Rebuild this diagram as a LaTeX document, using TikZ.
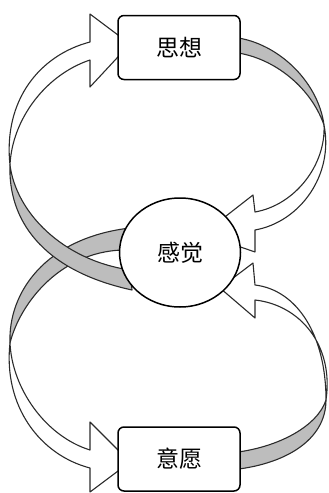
\documentclass[tikz,border=0pt]{standalone}
\usepackage{fontspec}
\newfontfamily\cjk{Noto Sans CJK SC}
\usetikzlibrary{shapes.geometric}
\definecolor{edgecol}{HTML}{2B2B2B}
\definecolor{backcol}{HTML}{BDBDBD}
\tikzset{
  front/.style={fill=white, draw=edgecol, line width=1.1pt, line join=round},
  backside/.style={fill=backcol, draw=edgecol, line width=1.1pt, line join=round},
  boxnode/.style={draw=black, line width=1.5pt, rounded corners=6pt, fill=white,
    minimum width=122pt, minimum height=64pt, font=\cjk\fontsize{23}{23}\selectfont},
  circnode/.style={ellipse, draw=black, line width=1.5pt, fill=white,
    minimum width=121pt, minimum height=109pt, font=\cjk\fontsize{23}{23}\selectfont}
}
\begin{document}
\begin{tikzpicture}[x=1pt,y=-1pt]
\useasboundingbox (0,0) rectangle (329,493);
% twist points
\coordinate (tA) at (10,165);
\coordinate (tB) at (10,343);
\coordinate (tC) at (324,125);
\coordinate (tD) at (326,400);
% ---- arrow B (circle -> bottom box, left) ----
\path[backside] (tB) .. controls (8,293) and (45,238) .. (130,228)
   -- (130,250) .. controls (62,248) and (20,303) .. (tB) -- cycle;
\path[front] (90,450) -- (90,422) -- (130,462) -- (90,492) -- (90,468)
   .. controls (40,455) and (3,406) .. (tB)
   .. controls (12,388) and (45,436) .. (90,450) -- cycle;
% ---- arrow A (circle -> top box, left) ----
\path[backside] (tA) .. controls (16,212) and (62,260) .. (130,270)
   -- (132,290) .. controls (40,270) and (8,218) .. (tA) -- cycle;
\path[front] (90,42) -- (90,14) -- (130,44) -- (90,87) -- (90,60)
   .. controls (45,75) and (12,120) .. (tA)
   .. controls (3,100) and (40,55) .. (90,42) -- cycle;
% ---- arrow C (top box -> circle, right) ----
\path[backside] (230,37) .. controls (275,40) and (318,80) .. (tC)
   .. controls (310,85) and (270,55) .. (230,52) -- cycle;
\path[front] (255,212) -- (253,195) -- (203,234) -- (255,252) -- (255,230)
   .. controls (300,222) and (334,175) .. (tC)
   .. controls (326,165) and (295,205) .. (255,212) -- cycle;
% ---- arrow D (bottom box -> circle, right) ----
\path[backside] (tD) .. controls (318,425) and (280,448) .. (230,453)
   -- (230,470) .. controls (285,465) and (326,440) .. (tD) -- cycle;
\path[front] (255,285) -- (253,263) -- (220,288) -- (255,318) -- (255,300)
   .. controls (300,305) and (334,345) .. (tD)
   .. controls (326,335) and (297,290) .. (255,285) -- cycle;
% ---- nodes ----
\node[boxnode] (think) at (179,47.5) {思想};
\node[circnode] (feel) at (180,252.5) {感觉};
\node[boxnode] (will) at (179,459) {意愿};
\end{tikzpicture}
\end{document}
